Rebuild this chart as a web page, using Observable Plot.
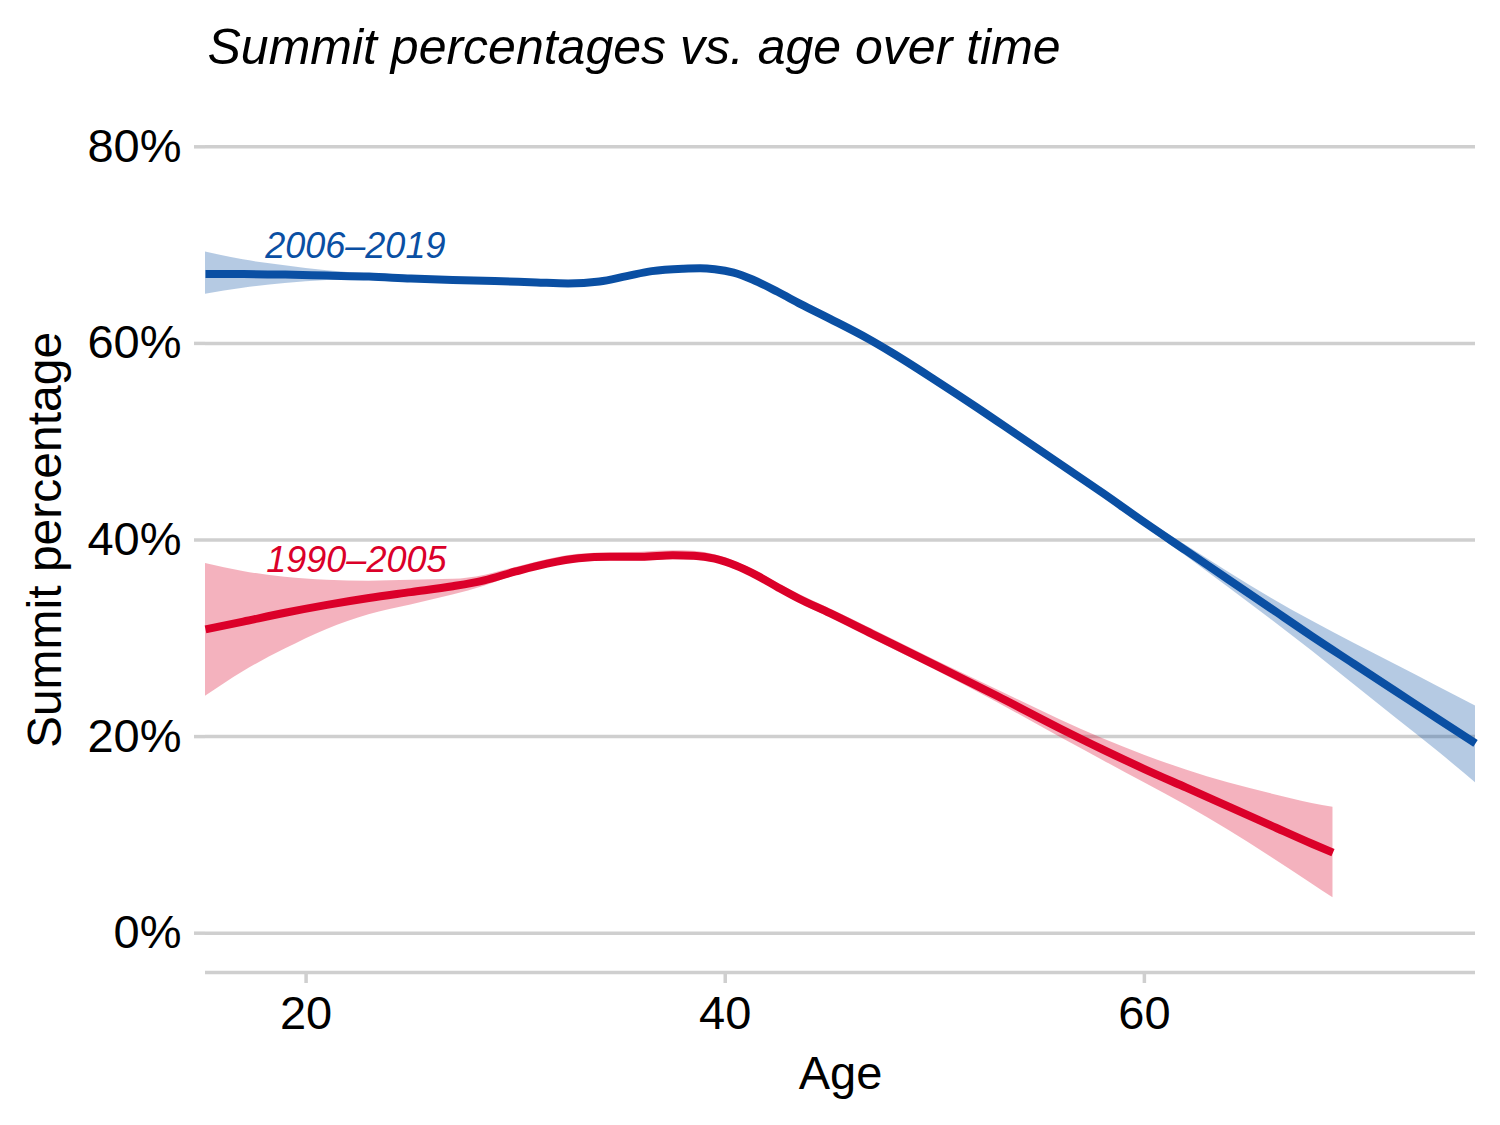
<!DOCTYPE html>
<html>
<head>
<meta charset="utf-8">
<script src="https://cdn.jsdelivr.net/npm/d3@7"></script>
<script src="https://cdn.jsdelivr.net/npm/@observablehq/plot@0.6"></script>
<style>
  html, body { margin: 0; padding: 0; background: #ffffff; }
  #chart svg { display: block; }
</style>
</head>
<body>
<div id="chart"></div>
<script>
const titleText = "Summit percentages vs. age over time";
const xLabel = "Age";
const yLabel = "Summit percentage";
const xTicks = [20, 40, 60];
const yTicks = [0, 20, 40, 60, 80];

const seriesNames = ["1990–2005", "2006–2019"];
const seriesColors = ["#db0029", "#0a4fa3"];
const labelAge = [18.1, 18.05];
const labelPct = [36.7, 68.7];

// 2006–2019
const ageBlue = [15.2, 17, 19, 21, 23, 25, 27, 29, 31, 32.5, 34, 35.3, 36.5, 38, 38.8, 39.5, 40.4, 41.3, 42.5, 43.6, 45, 46.8, 48, 50, 52, 54, 56, 58, 60, 62, 64, 66, 68, 70, 72, 74, 75.8];
const pctBlue = [67.05, 67.05, 67.0, 66.9, 66.8, 66.6, 66.45, 66.35, 66.2, 66.1, 66.3, 66.85, 67.35, 67.6, 67.65, 67.55, 67.2, 66.5, 65.25, 64.0, 62.5, 60.5, 59.0, 56.3, 53.5, 50.6, 47.7, 44.8, 41.8, 38.9, 36.0, 33.1, 30.2, 27.4, 24.6, 21.8, 19.3];
const hiBlue  = [69.3, 68.5, 67.9, 67.4, 67.1, 66.9, 66.7, 66.6, 66.45, 66.35, 66.55, 67.1, 67.6, 67.85, 67.9, 67.8, 67.45, 66.75, 65.5, 64.25, 62.75, 60.75, 59.25, 56.55, 53.75, 50.85, 48.0, 45.15, 42.2, 39.45, 36.75, 34.15, 31.75, 29.5, 27.3, 25.1, 23.1];
const loBlue  = [65.0, 65.6, 66.1, 66.4, 66.5, 66.3, 66.2, 66.1, 65.95, 65.85, 66.05, 66.6, 67.1, 67.35, 67.4, 67.3, 66.95, 66.25, 65.0, 63.75, 62.25, 60.25, 58.75, 56.05, 53.25, 50.35, 47.4, 44.45, 41.4, 38.35, 35.2, 32.0, 28.7, 25.3, 21.9, 18.5, 15.3];

// 1990–2005
const ageRed = [15.2, 17, 19, 21, 23, 25, 27, 28.5, 30, 31.5, 33, 34.5, 36, 37.5, 38.5, 39.5, 40.5, 41.5, 42.5, 43.5, 45, 47, 50, 53, 56, 58, 60, 62, 64, 66, 68, 69];
const pctRed = [30.9, 31.7, 32.6, 33.4, 34.1, 34.7, 35.3, 35.9, 36.8, 37.6, 38.15, 38.3, 38.3, 38.45, 38.4, 38.1, 37.4, 36.4, 35.2, 34.05, 32.55, 30.45, 27.3, 24.1, 20.8, 18.7, 16.7, 14.8, 12.9, 11.0, 9.1, 8.2];
const hiRed  = [37.6, 36.8, 36.2, 35.9, 35.8, 35.9, 36.0, 36.4, 37.2, 38.0, 38.55, 38.7, 38.75, 38.9, 38.85, 38.5, 37.8, 36.8, 35.6, 34.5, 33.0, 30.95, 27.8, 24.75, 21.7, 19.8, 18.1, 16.6, 15.3, 14.2, 13.2, 12.8];
const loRed  = [24.1, 26.6, 28.9, 30.9, 32.4, 33.4, 34.4, 35.3, 36.4, 37.2, 37.75, 37.9, 37.85, 38.0, 37.95, 37.7, 37.0, 36.0, 34.8, 33.6, 32.1, 29.95, 26.8, 23.45, 19.9, 17.6, 15.3, 13.0, 10.5, 7.8, 5.0, 3.6];

const rows = [];
ageRed.forEach((a, i) => rows.push({series: seriesNames[0], age: a, pct: pctRed[i], lo: loRed[i], hi: hiRed[i]}));
ageBlue.forEach((a, i) => rows.push({series: seriesNames[1], age: a, pct: pctBlue[i], lo: loBlue[i], hi: hiBlue[i]}));
const labels = seriesNames.map((s, i) => ({series: s, age: labelAge[i], pct: labelPct[i]}));

const font = "'Liberation Sans', Arial, Helvetica, sans-serif";
const gridColor = "#cfcfcf";
const curve = "monotone-x";

const chart = Plot.plot({
  width: 1500,
  height: 1125,
  marginTop: 107,
  marginBottom: 153,
  marginLeft: 205,
  marginRight: 25,
  style: {fontFamily: font, background: "#ffffff"},
  x: {domain: [15.2, 75.8]},
  y: {domain: [-4, 84]},
  color: {domain: seriesNames, range: seriesColors},
  marks: [
    Plot.ruleY(yTicks, {stroke: gridColor, strokeWidth: 3.5}),
    Plot.ruleY([-4], {stroke: gridColor, strokeWidth: 3.5}),
    Plot.areaY(rows, {x: "age", y1: "lo", y2: "hi", z: "series", fill: "series", fillOpacity: 0.3, curve}),
    Plot.line(rows, {x: "age", y: "pct", z: "series", stroke: "series", strokeWidth: 8, strokeLinecap: "butt", curve}),
    Plot.text(labels, {x: "age", y: "pct", text: "series", fill: "series", fontSize: 36, fontStyle: "italic", textAnchor: "start", lineAnchor: "bottom"}),
    Plot.axisX({ticks: xTicks, tickSize: 11, tickPadding: 12, stroke: gridColor, strokeWidth: 3.5, fill: "#000000", fontSize: 47, label: null}),
    Plot.axisY({ticks: yTicks, tickSize: 11, tickPadding: 13, stroke: gridColor, strokeWidth: 3.5, fill: "#000000", fontSize: 47, tickFormat: d => d + "%", label: null}),
    Plot.text([xLabel], {frameAnchor: "bottom", dy: 116, lineAnchor: "bottom", fontSize: 47, fill: "#000000"}),
    Plot.text([yLabel], {frameAnchor: "left", dx: -145, rotate: -90, lineAnchor: "bottom", textAnchor: "middle", fontSize: 48, fill: "#000000"}),
    Plot.text([titleText], {frameAnchor: "top-left", dx: 2, dy: -44, lineAnchor: "bottom", textAnchor: "start", fontSize: 50, fontStyle: "italic", fill: "#000000"})
  ]
});
document.getElementById("chart").appendChild(chart);
</script>
</body>
</html>
